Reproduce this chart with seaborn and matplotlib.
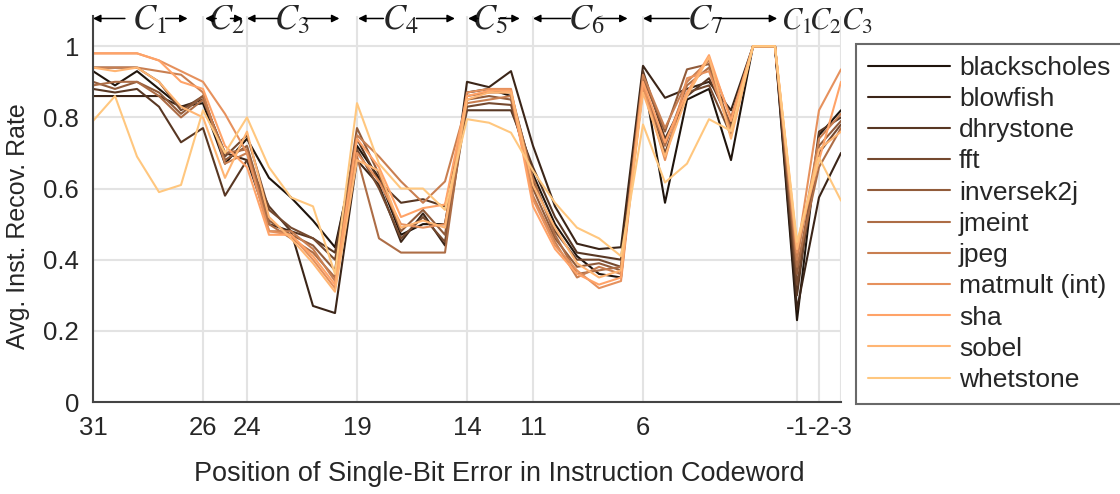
import numpy as np
import pandas as pd
import matplotlib
matplotlib.use("Agg")
import matplotlib.pyplot as plt
import seaborn as sns

# bit positions of the single-bit error (x axis, left to right)
positions = list(range(31, -1, -1)) + [-1, -2, -3]
tick_positions = [31, 26, 24, 19, 14, 11, 6, -1, -2, -3]

benchmarks = ["blackscholes", "blowfish", "dhrystone", "fft", "inversek2j",
              "jmeint", "jpeg", "matmult (int)", "sha", "sobel", "whetstone"]

# avg. instruction recovery rate per bit position (31 ... 0, -1, -2, -3)
blackscholes = [0.93, 0.89, 0.93, 0.88, 0.83, 0.84, 0.67, 0.74, 0.63, 0.575, 0.51, 0.435,
                0.72, 0.63, 0.47, 0.50, 0.50, 0.87, 0.88, 0.86, 0.64, 0.50, 0.41, 0.36,
                0.35, 0.92, 0.56, 0.85, 0.88, 0.68, 1.0, 1.0, 0.23, 0.75, 0.82]
blowfish = [0.86, 0.86, 0.86, 0.86, 0.83, 0.85, 0.70, 0.68, 0.50, 0.48, 0.27, 0.25,
            0.68, 0.61, 0.45, 0.53, 0.44, 0.90, 0.885, 0.93, 0.72, 0.55, 0.445, 0.43,
            0.435, 0.945, 0.855, 0.88, 0.90, 0.82, 1.0, 1.0, 0.26, 0.575, 0.70]
dhrystone = [0.88, 0.87, 0.88, 0.83, 0.73, 0.77, 0.58, 0.68, 0.55, 0.48, 0.46, 0.42,
             0.74, 0.62, 0.56, 0.57, 0.55, 0.82, 0.82, 0.82, 0.66, 0.52, 0.42, 0.41,
             0.40, 0.93, 0.74, 0.86, 0.91, 0.78, 1.0, 1.0, 0.30, 0.76, 0.80]
fft = [0.94, 0.94, 0.94, 0.90, 0.82, 0.86, 0.69, 0.75, 0.54, 0.49, 0.46, 0.40,
       0.71, 0.60, 0.46, 0.52, 0.45, 0.83, 0.84, 0.835, 0.62, 0.48, 0.40, 0.40,
       0.38, 0.90, 0.70, 0.87, 0.89, 0.75, 1.0, 1.0, 0.33, 0.70, 0.78]
inversek2j = [0.90, 0.88, 0.90, 0.87, 0.81, 0.86, 0.68, 0.72, 0.51, 0.47, 0.44, 0.37,
              0.77, 0.64, 0.48, 0.54, 0.47, 0.85, 0.86, 0.85, 0.60, 0.46, 0.38, 0.39,
              0.37, 0.91, 0.76, 0.935, 0.95, 0.77, 1.0, 1.0, 0.36, 0.72, 0.79]
jmeint = [0.89, 0.90, 0.90, 0.86, 0.80, 0.85, 0.70, 0.71, 0.50, 0.46, 0.42, 0.35,
          0.69, 0.46, 0.42, 0.42, 0.42, 0.86, 0.87, 0.87, 0.63, 0.47, 0.36, 0.37,
          0.38, 0.88, 0.72, 0.89, 0.94, 0.76, 1.0, 1.0, 0.38, 0.66, 0.77]
jpeg = [0.94, 0.94, 0.94, 0.93, 0.92, 0.87, 0.67, 0.70, 0.48, 0.48, 0.43, 0.34,
        0.75, 0.69, 0.62, 0.56, 0.62, 0.84, 0.85, 0.86, 0.58, 0.45, 0.35, 0.38,
        0.36, 0.92, 0.77, 0.90, 0.96, 0.80, 1.0, 1.0, 0.40, 0.74, 0.81]
matmult = [0.98, 0.98, 0.98, 0.96, 0.93, 0.90, 0.81, 0.70, 0.48, 0.47, 0.40, 0.32,
           0.70, 0.62, 0.50, 0.49, 0.50, 0.87, 0.88, 0.88, 0.57, 0.44, 0.37, 0.32,
           0.34, 0.89, 0.68, 0.91, 0.93, 0.76, 1.0, 1.0, 0.42, 0.82, 0.935]
sha = [0.98, 0.98, 0.98, 0.96, 0.90, 0.88, 0.72, 0.66, 0.47, 0.47, 0.41, 0.33,
       0.74, 0.66, 0.52, 0.545, 0.555, 0.86, 0.875, 0.875, 0.55, 0.43, 0.36, 0.33,
       0.35, 0.90, 0.73, 0.87, 0.975, 0.79, 1.0, 1.0, 0.44, 0.68, 0.90]
sobel = [0.94, 0.93, 0.94, 0.90, 0.83, 0.80, 0.63, 0.76, 0.52, 0.46, 0.39, 0.31,
         0.68, 0.65, 0.49, 0.51, 0.49, 0.85, 0.87, 0.87, 0.61, 0.49, 0.39, 0.35,
         0.37, 0.87, 0.69, 0.86, 0.97, 0.74, 1.0, 1.0, 0.43, 0.71, 0.76]
whetstone = [0.79, 0.86, 0.69, 0.59, 0.61, 0.82, 0.70, 0.80, 0.66, 0.575, 0.55, 0.36,
             0.84, 0.67, 0.60, 0.60, 0.54, 0.795, 0.785, 0.757, 0.65, 0.56, 0.49, 0.46,
             0.41, 0.78, 0.617, 0.67, 0.795, 0.762, 1.0, 1.0, 0.45, 0.687, 0.566]

series = [blackscholes, blowfish, dhrystone, fft, inversek2j, jmeint,
          jpeg, matmult, sha, sobel, whetstone]

# codeword field labels above the plot
field_labels = ["$C_1$", "$C_2$", "$C_3$", "$C_4$", "$C_5$", "$C_6$", "$C_7$"]
tail_labels = ["$C_1$", "$C_2$", "$C_3$"]

idx = {p: i for i, p in enumerate(positions)}
rows = []
for name, vals in zip(benchmarks, series):
    for p, v in zip(positions, vals):
        rows.append({"idx": idx[p], "bench": name, "rate": v})
df = pd.DataFrame(rows)

sns.set_style("white")
plt.rcParams["font.family"] = ["Liberation Sans", "DejaVu Sans"]
plt.rcParams["mathtext.fontset"] = "stix"

palette = [plt.cm.copper(v) for v in np.linspace(0.1, 1.0, len(benchmarks))]

fig = plt.figure(figsize=(11.2, 4.94), dpi=100)
ax = fig.add_axes([93 / 1120, 92 / 494, 748 / 1120, 386 / 494])

sns.lineplot(data=df, x="idx", y="rate", hue="bench", hue_order=benchmarks,
             palette=palette, linewidth=1.5, ax=ax, sort=False)

ax.set_xlim(0, len(positions) - 1)
ax.set_ylim(0, 1.085)
ax.set_xticks([idx[p] for p in tick_positions])
ax.set_xticklabels([str(p) for p in tick_positions])
ax.set_yticks([0, 0.2, 0.4, 0.6, 0.8, 1.0])
ax.set_yticklabels(["0", "0.2", "0.4", "0.6", "0.8", "1"])
ax.grid(True, color="#e3e3e3", linewidth=1.5)
ax.set_axisbelow(True)
for s in ["top", "right"]:
    ax.spines[s].set_visible(False)
for s in ["left", "bottom"]:
    ax.spines[s].set_color("#444444")
    ax.spines[s].set_linewidth(1.5)
ax.tick_params(direction="in", length=6, width=1.5, color="#444444",
               labelsize=18.5, pad=10)

ax.set_xlabel("Position of Single-Bit Error in Instruction Codeword", fontsize=19.5)
ax.xaxis.set_label_coords(0.543, -0.153)
ax.set_ylabel("Avg. Inst. Recov. Rate", fontsize=18)
ax.yaxis.set_label_coords(-0.084, 0.456)

# arrows: (left head, left tail, label centre, right tail, right head), in x-index units
arrow_y = 1.078
text_y = 1.047
marks = [(0.0, 1.45, 2.55, 3.3, 4.3),
         (5.1, 5.6, 6.05, 6.25, 6.8),
         (7.0, 8.4, 9.05, 9.6, 11.2),
         (12.05, 13.2, 13.95, 14.7, 16.45),
         (17.05, 17.5, 18.05, 18.45, 19.4),
         (20.0, 21.7, 22.4, 22.95, 24.3),
         (25.0, 27.1, 27.8, 28.45, 31.1)]
arrow_kw = dict(arrowstyle="-|>", color="black", lw=1.1,
                mutation_scale=11, shrinkA=0, shrinkB=0)
for lab, (lh, lt, xm, rt, rh) in zip(field_labels, marks):
    ax.text(xm, text_y, lab, fontsize=25, ha="center", va="baseline",
            clip_on=False)
    ax.annotate("", xy=(lh, arrow_y), xytext=(lt, arrow_y),
                arrowprops=arrow_kw, annotation_clip=False)
    ax.annotate("", xy=(rh, arrow_y), xytext=(rt, arrow_y),
                arrowprops=arrow_kw, annotation_clip=False)
for lab, xm in zip(tail_labels, [31.95, 33.3, 34.7]):
    ax.text(xm, text_y, lab, fontsize=22, ha="center", va="baseline",
            clip_on=False)

leg = ax.get_legend()
handles = leg.legend_handles
labels = [t.get_text() for t in leg.get_texts()]
leg.remove()
fl = fig.legend(handles, labels, loc="upper left",
                bbox_to_anchor=(856 / 1120, 1 - 44 / 494),
                fontsize=19, frameon=True, fancybox=False,
                handlelength=3.1, handletextpad=0.35, labelspacing=0.273,
                borderpad=0.45, borderaxespad=0)
fl.get_frame().set_edgecolor("#444444")
fl.get_frame().set_linewidth(1.5)
for h in fl.legend_handles:
    h.set_linewidth(1.5)

fig.savefig("out.png", dpi=100)
